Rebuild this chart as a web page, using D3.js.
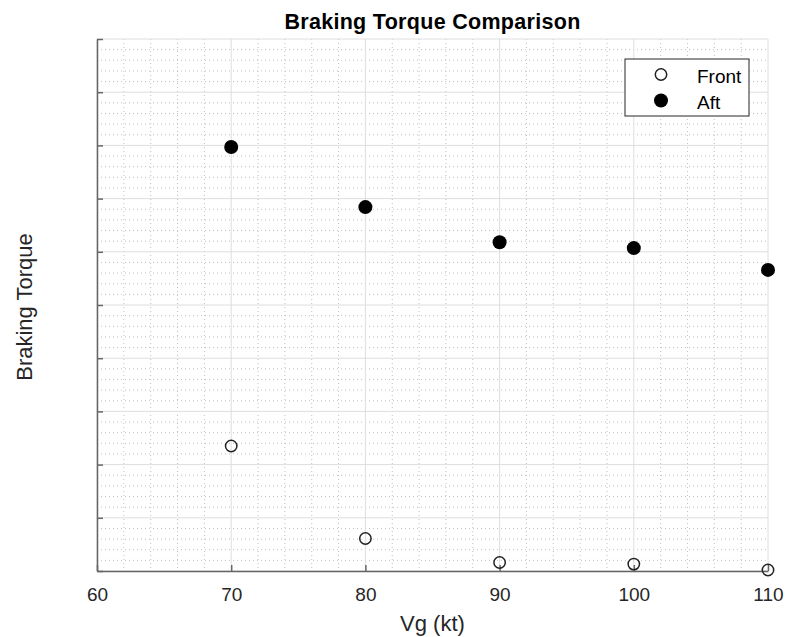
<!DOCTYPE html>
<html>
<head>
<meta charset="utf-8">
<script src="https://cdn.jsdelivr.net/npm/d3@7"></script>
<style>
  body { margin: 0; background: #fff; }
  text { font-family: "Liberation Sans", Arial, sans-serif; }
</style>
</head>
<body>
<svg width="786" height="637"></svg>
<script>
const speeds = [70, 80, 90, 100, 110];
const frontTorque = [2.35, 0.61, 0.16, 0.13, 0.02];
const aftTorque = [7.97, 6.84, 6.18, 6.07, 5.66];
const xTicks = [60, 70, 80, 90, 100, 110];
const seriesNames = ['Front', 'Aft'];

const svg = d3.select('svg');
const width = +svg.attr('width');
const height = +svg.attr('height');

const margin = { top: 39, right: 18, bottom: 66, left: 97 };
const innerWidth = width - margin.left - margin.right;
const innerHeight = height - margin.top - margin.bottom;

const xScale = d3.scaleLinear()
    .domain([60, 110])
    .range([0, innerWidth]);

const yScale = d3.scaleLinear()
    .domain([0, 10])
    .range([innerHeight, 0]);

const g = svg.append('g')
    .attr('transform', `translate(${margin.left}, ${margin.top})`);

// minor grid (dotted)
const xMinor = d3.range(60, 110.01, 2).filter(v => v % 10 !== 0);
const yMinor = d3.range(0, 10.01, 0.2).filter(v => Math.abs(v - Math.round(v)) > 0.01);

g.append('g').selectAll('line').data(xMinor)
    .enter().append('line')
    .attr('x1', d => xScale(d)).attr('x2', d => xScale(d))
    .attr('y1', 0).attr('y2', innerHeight)
    .attr('stroke', '#c0c0c0')
    .attr('stroke-dasharray', '1,3');

g.append('g').selectAll('line').data(yMinor)
    .enter().append('line')
    .attr('y1', d => yScale(d)).attr('y2', d => yScale(d))
    .attr('x1', 0).attr('x2', innerWidth)
    .attr('stroke', '#c0c0c0')
    .attr('stroke-dasharray', '1,3');

// major grid
g.append('g').selectAll('line').data(xTicks)
    .enter().append('line')
    .attr('x1', d => xScale(d)).attr('x2', d => xScale(d))
    .attr('y1', 0).attr('y2', innerHeight)
    .attr('stroke', '#dedede');

g.append('g').selectAll('line').data(yScale.ticks(10))
    .enter().append('line')
    .attr('y1', d => yScale(d)).attr('y2', d => yScale(d))
    .attr('x1', 0).attr('x2', innerWidth)
    .attr('stroke', '#dedede');

// axes
const xAxis = d3.axisBottom(xScale)
    .tickValues(xTicks)
    .tickSizeInner(-6)
    .tickSizeOuter(0)
    .tickPadding(17);

const yAxis = d3.axisLeft(yScale)
    .ticks(10)
    .tickSizeInner(-6)
    .tickSizeOuter(0);

const xAxisG = g.append('g')
    .attr('transform', `translate(0, ${innerHeight})`)
    .call(xAxis);

const yAxisG = g.append('g')
    .call(yAxis);

// y axis has no tick labels in the original
yAxisG.selectAll('.tick text').remove();

[xAxisG, yAxisG].forEach(ax => {
    ax.select('.domain').attr('stroke', '#666').attr('stroke-width', 1.5);
    ax.selectAll('.tick line').attr('stroke', '#666').attr('stroke-width', 1.5);
});

xAxisG.selectAll('.tick text')
    .attr('fill', '#262626')
    .style('font-size', '19px')
    .style('font-family', '"Liberation Sans", Arial, sans-serif');

xAxisG.append('text')
    .attr('fill', '#262626')
    .attr('x', innerWidth / 2)
    .attr('y', 60)
    .style('text-anchor', 'middle')
    .style('font-size', '22px')
    .style('font-family', '"Liberation Sans", Arial, sans-serif')
    .text('Vg (kt)');

g.append('text')
    .attr('fill', '#262626')
    .attr('transform', 'rotate(-90)')
    .attr('x', -innerHeight / 2 - 2)
    .attr('y', -65)
    .style('text-anchor', 'middle')
    .style('font-size', '22px')
    .text('Braking Torque');

g.append('text')
    .attr('x', innerWidth / 2)
    .attr('y', -10.5)
    .style('text-anchor', 'middle')
    .style('font-size', '21.5px')
    .style('font-weight', 'bold')
    .style('letter-spacing', '0.3px')
    .attr('fill', '#000')
    .text('Braking Torque Comparison');

// points
const front = speeds.map((s, i) => ({ x: s, y: frontTorque[i] }));
const aft = speeds.map((s, i) => ({ x: s, y: aftTorque[i] }));

g.append('g').selectAll('circle').data(front)
    .enter().append('circle')
    .attr('cx', d => xScale(d.x))
    .attr('cy', d => yScale(d.y))
    .attr('r', 5.7)
    .attr('fill', 'none')
    .attr('stroke', '#222')
    .attr('stroke-width', 1.5);

g.append('g').selectAll('circle').data(aft)
    .enter().append('circle')
    .attr('cx', d => xScale(d.x))
    .attr('cy', d => yScale(d.y))
    .attr('r', 7)
    .attr('fill', '#000');

// legend
const legend = svg.append('g')
    .attr('transform', 'translate(625, 59)');

legend.append('rect')
    .attr('width', 124)
    .attr('height', 57)
    .attr('fill', '#fff')
    .attr('stroke', '#262626')
    .attr('stroke-width', 1);

const legendItems = legend.selectAll('.item').data(seriesNames)
    .enter().append('g')
    .attr('class', 'item')
    .attr('transform', (d, i) => `translate(0, ${15.5 + i * 26})`);

legendItems.append('circle')
    .attr('cx', 36)
    .attr('r', (d, i) => i === 0 ? 5.7 : 7)
    .attr('fill', (d, i) => i === 0 ? 'none' : '#000')
    .attr('stroke', (d, i) => i === 0 ? '#222' : 'none')
    .attr('stroke-width', 1.5);

legendItems.append('text')
    .attr('x', 72)
    .attr('y', 8.5)
    .attr('fill', '#000')
    .style('font-size', '19px')
    .text(d => d);
</script>
</body>
</html>
